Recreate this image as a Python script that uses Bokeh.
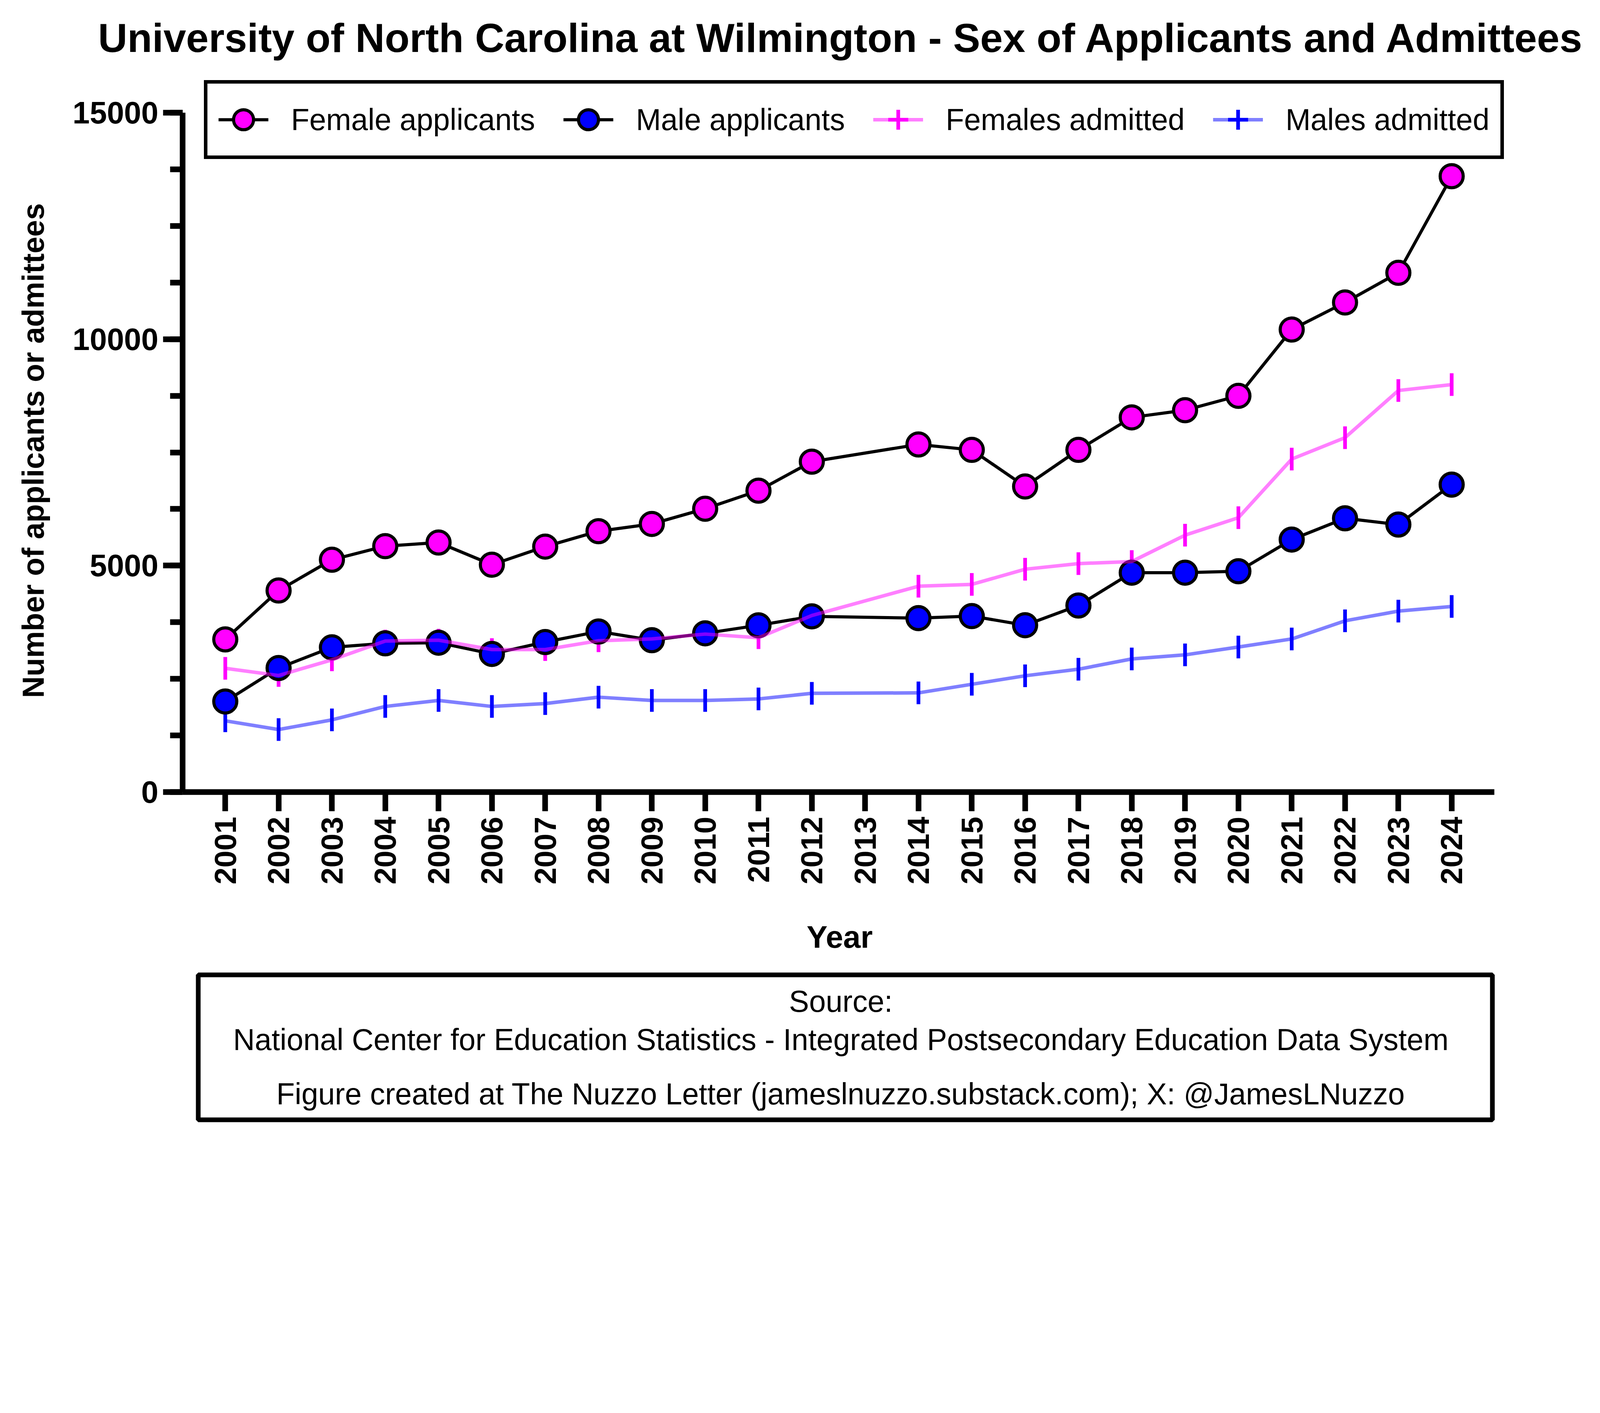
import math
from bokeh.plotting import figure
from bokeh.models import Range1d, FixedTicker, Legend, LegendItem, Label, ColumnDataSource
from bokeh.layouts import column
from bokeh.embed import file_html
from bokeh.resources import INLINE
from bokeh.core.properties import value

# ---------------- data ----------------
title_text = "University of North Carolina at Wilmington - Sex of Applicants and Admittees"
x_label = "Year"
y_label = "Number of applicants or admittees"
years = [2001, 2002, 2003, 2004, 2005, 2006, 2007, 2008, 2009, 2010, 2011, 2012,
         2014, 2015, 2016, 2017, 2018, 2019, 2020, 2021, 2022, 2023, 2024]
tick_years = list(range(2001, 2025))
female_applicants = [3370, 4450, 5130, 5430, 5510, 5020, 5420, 5760, 5920, 6255, 6655, 7295,
                     7675, 7555, 6748, 7555, 8273, 8431, 8749, 10212, 10810, 11465, 13598]
male_applicants = [2000, 2739, 3195, 3284, 3298, 3050, 3312, 3545, 3353, 3505, 3682, 3880,
                   3840, 3885, 3684, 4119, 4844, 4844, 4875, 5575, 6044, 5906, 6789]
females_admitted = [2732, 2574, 2919, 3333, 3353, 3146, 3146, 3340, 3381, 3488, 3408, 3898,
                    4545, 4585, 4920, 5044, 5090, 5672, 6058, 7352, 7824, 8866, 8997]
males_admitted = [1573, 1380, 1594, 1890, 2022, 1890, 1953, 2095, 2022, 2022, 2056, 2180,
                  2190, 2380, 2567, 2712, 2939, 3029, 3202, 3380, 3781, 3995, 4098]
series_names = ["Female applicants", "Male applicants", "Females admitted", "Males admitted"]
y_major = [0, 5000, 10000, 15000]
y_minor = [1250 * i for i in range(13)]
source_lines = [
    "Source:",
    "National Center for Education Statistics - Integrated Postsecondary Education Data System",
    "Figure created at The Nuzzo Letter (jameslnuzzo.substack.com); X: @JamesLNuzzo",
]

FONT = "Liberation Sans"
MAGENTA = "#FF00FF"
BLUE = "#0000FF"

# ---------------- geometry (CSS px) ----------------
W = 4066
H1 = 2452
H2 = 422
X0, X1 = 2000.2, 2024.8          # axis extent
Y0, Y1 = 0, 15000
AX_L, AX_R = 467, 3825            # canvas px of X0, X1
AY_T, AY_B = 288, 2027            # canvas px of Y1, Y0
ppx = (AX_R - AX_L) / (X1 - X0)
ppy = (AY_B - AY_T) / (Y1 - Y0)
XL = X0 - AX_L / ppx
XR = XL + W / ppx
YT = AY_B / ppy
YB = (AY_B - H1) / ppy


def px_x(c):
    return XL + c / ppx


def px_y(c):
    return (AY_B - c) / ppy


p = figure(width=W, height=H1, x_range=Range1d(XL, XR), y_range=Range1d(YB, YT),
           output_backend="svg", toolbar_location=None,
           min_border_left=0, min_border_right=0, min_border_top=0, min_border_bottom=0)
p.outline_line_color = None
p.grid.visible = False

src = ColumnDataSource(dict(year=years, fa=female_applicants, ma=male_applicants,
                            fad=females_admitted, mad=males_admitted))

fa_line = p.line("year", "fa", source=src, line_color="black", line_width=8)
ma_line = p.line("year", "ma", source=src, line_color="black", line_width=8)
fad_pts = p.scatter("year", "fad", source=src, marker="dash", angle=math.pi / 2, size=58,
                    line_color=MAGENTA, line_width=9.5)
mad_pts = p.scatter("year", "mad", source=src, marker="dash", angle=math.pi / 2, size=58,
                    line_color=BLUE, line_width=9.5)
fa_pts = p.scatter("year", "fa", source=src, marker="circle", size=59,
                   fill_color=MAGENTA, line_color="black", line_width=8)
ma_pts = p.scatter("year", "ma", source=src, marker="circle", size=59,
                   fill_color=BLUE, line_color="black", line_width=8)
fad_line = p.line("year", "fad", source=src, line_color=MAGENTA, line_alpha=0.5, line_width=9)
mad_line = p.line("year", "mad", source=src, line_color=BLUE, line_alpha=0.5, line_width=9)
# legend-only symbols (zero size in the plot; the legend sizes them itself)
fad_sym = p.scatter("year", "fad", source=src, marker="cross", size=0,
                    line_color=MAGENTA, line_width=9.5)
mad_sym = p.scatter("year", "mad", source=src, marker="cross", size=0,
                    line_color=BLUE, line_width=9.5)

legend = Legend(items=[
    LegendItem(label=series_names[0], renderers=[fa_line, fa_pts]),
    LegendItem(label=series_names[1], renderers=[ma_line, ma_pts]),
    LegendItem(label=series_names[2], renderers=[fad_line, fad_sym]),
    LegendItem(label=series_names[3], renderers=[mad_line, mad_sym]),
], orientation="horizontal", location=(522, H1 - 407))
legend.glyph_width = 128
legend.glyph_height = 128
legend.padding = 28
legend.margin = 0
legend.label_standoff = 58
legend.spacing = 72
legend.label_text_font = FONT
legend.label_text_font_size = "77px"
legend.label_text_color = "black"
legend.border_line_color = "black"
legend.border_line_alpha = 1.0
legend.border_line_width = 9
legend.background_fill_color = "white"
legend.background_fill_alpha = 1.0
p.add_layout(legend, "center")

xa = p.xaxis[0]
xa.fixed_location = Y0
xa.bounds = (X0, X1)
xa.ticker = FixedTicker(ticks=tick_years, minor_ticks=[])
xa.major_label_orientation = math.pi / 2
xa.axis_line_width = 14.4
xa.axis_line_color = "black"
xa.major_tick_line_width = 14.4
xa.major_tick_out = 49
xa.major_tick_in = 0
xa.minor_tick_out = 0
xa.minor_tick_in = 0
xa.major_label_standoff = 14
xa.major_label_text_font = FONT
xa.major_label_text_font_style = "bold"
xa.major_label_text_font_size = "78px"
xa.major_label_text_color = "black"

ya = p.yaxis[0]
ya.fixed_location = X0
ya.bounds = (Y0, Y1)
ya.ticker = FixedTicker(ticks=y_major, minor_ticks=y_minor)
ya.axis_line_width = 14.4
ya.axis_line_color = "black"
ya.major_tick_line_width = 14.4
ya.minor_tick_line_width = 14.4
ya.major_tick_out = 50
ya.major_tick_in = 0
ya.minor_tick_out = 32
ya.minor_tick_in = 0
ya.major_label_standoff = 12
ya.major_label_text_font = FONT
ya.major_label_text_font_style = "bold"
ya.major_label_text_font_size = "79px"
ya.major_label_text_color = "black"

# title and axis titles
p.add_layout(Label(x=px_x(2154), y=px_y(96), text=title_text,
                   text_align="center", text_baseline="alphabetic",
                   text_font=FONT, text_font_style="bold", text_font_size="104px",
                   text_color="black"))
p.add_layout(Label(x=px_x(2149), y=px_y(2398), text=x_label,
                   text_align="center", text_baseline="alphabetic",
                   text_font=FONT, text_font_style="bold", text_font_size="80px",
                   text_color="black"))
p.add_layout(Label(x=px_x(84), y=px_y(1153), text=y_label, angle=math.pi / 2,
                   text_align="center", text_baseline="alphabetic",
                   text_font=FONT, text_font_style="bold", text_font_size="77px",
                   text_color="black"))

# ---------------- source box ----------------
p2 = figure(width=W, height=H2, x_range=Range1d(XL, XR), y_range=Range1d(H2, 0),
            output_backend="svg", toolbar_location=None,
            x_axis_location=None, y_axis_location=None, min_border=0)
p2.outline_line_color = None
p2.grid.visible = False
p2.quad(left=[px_x(507)], right=[px_x(3820)], top=[2495 - H1], bottom=[2866 - H1],
        fill_color=None, line_color="black", line_width=12)
p2.text(x=[px_x(2152)] * 3, y=[2562 - H1, 2660 - H1, 2799 - H1], text=source_lines,
        text_align="center", text_baseline="alphabetic", text_font=value(FONT),
        text_font_size="77px", text_color="black")

layout = column(p, p2, spacing=0)
open("out.html", "w").write(file_html(layout, INLINE))
